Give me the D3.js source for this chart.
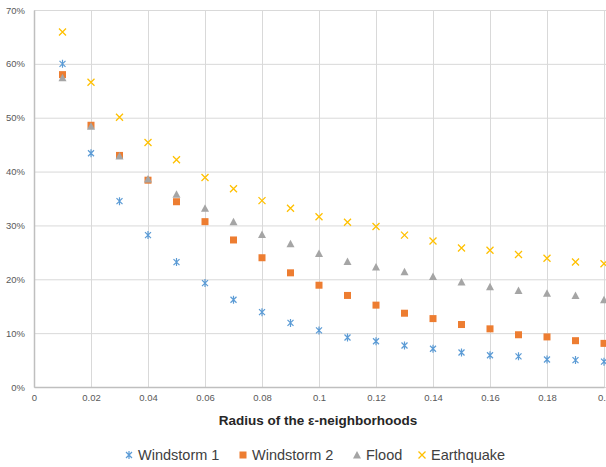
<!DOCTYPE html>
<html lang="en">
<head>
	<meta charset="utf-8" />
	<title>epsilon neighborhoods</title>
	<style>
		* {margin: 0; padding: 0;}
		body {background: #fff;}
		text {font-family: "Liberation Sans", Arial, sans-serif;}
	</style>
</head>
<body>
	<div id="viz"></div>
	<script src="https://cdn.jsdelivr.net/npm/d3@7"></script>
	<script>

	var w = 606, h = 467;

	// radius values (x) and the share per hazard (y)
	var radius = [0.01,0.02,0.03,0.04,0.05,0.06,0.07,0.08,0.09,0.10,
	              0.11,0.12,0.13,0.14,0.15,0.16,0.17,0.18,0.19,0.20];
	var windstorm1 = [0.600,0.434,0.345,0.282,0.232,0.193,0.162,0.139,0.119,0.105,
	                  0.092,0.085,0.077,0.071,0.064,0.059,0.057,0.051,0.050,0.047];
	var windstorm2 = [0.580,0.486,0.430,0.384,0.344,0.307,0.273,0.240,0.212,0.189,
	                  0.170,0.152,0.137,0.127,0.116,0.108,0.097,0.093,0.086,0.081];
	var flood      = [0.574,0.484,0.429,0.386,0.358,0.332,0.307,0.283,0.266,0.248,
	                  0.233,0.223,0.214,0.205,0.195,0.186,0.179,0.174,0.170,0.162];
	var earthquake = [0.659,0.566,0.501,0.454,0.422,0.389,0.368,0.346,0.332,0.316,
	                  0.306,0.298,0.282,0.271,0.258,0.254,0.246,0.239,0.232,0.229];

	var xTicks = [0,0.02,0.04,0.06,0.08,0.1,0.12,0.14,0.16,0.18,0.2];
	var yTicks = [0,0.1,0.2,0.3,0.4,0.5,0.6,0.7];

	var seriesNames = ["Windstorm 1","Windstorm 2","Flood","Earthquake"];
	var seriesColors = ["#5b9bd5","#ed7d31","#a5a5a5","#ffc000"];
	var seriesShapes = ["star","square","triangle","cross"];
	var seriesData = [windstorm1, windstorm2, flood, earthquake];

	var x = d3.scaleLinear().domain([0, 0.2]).range([34, 604]);
	var y = d3.scaleLinear().domain([0, 0.7]).range([387, 10]);

	var svg = d3.select("#viz").append("svg").attr("width", w).attr("height", h);

	// gridlines
	svg.append("g").attr("class","ygrid")
		.attr("transform","translate(34,0)")
		.call(d3.axisLeft(y).tickValues(yTicks).tickSize(-580).tickFormat(""))
		.call(function(g){
			g.select(".domain").remove();
			g.selectAll("line").attr("stroke","#d9d9d9");
		});
	svg.append("g").attr("class","xgrid")
		.attr("transform","translate(0,387)")
		.call(d3.axisBottom(x).tickValues(xTicks).tickSize(-377).tickFormat(""))
		.call(function(g){
			g.select(".domain").remove();
			g.selectAll("line").attr("stroke","#d9d9d9");
		});

	// axes lines + labels
	svg.append("g")
		.attr("transform","translate(34,0)")
		.call(d3.axisLeft(y).tickValues(yTicks).tickSize(0).tickPadding(9).tickFormat(d3.format(".0%")))
		.call(function(g){
			g.select(".domain").attr("stroke","#bfbfbf").attr("stroke-width",1.5);
			g.selectAll("text").attr("fill","#595959").style("font-size","9.5px")
				.style("font-family","'Liberation Sans', Arial, sans-serif");
		});
	svg.append("g")
		.attr("transform","translate(0,387)")
		.call(d3.axisBottom(x).tickValues(xTicks).tickSize(0).tickPadding(7)
			.tickFormat(function(d){ return d === 0 ? "0" : String(+d.toFixed(2)); }))
		.call(function(g){
			g.select(".domain").attr("stroke","#bfbfbf").attr("stroke-width",1.5);
			g.selectAll("text").attr("fill","#595959").style("font-size","9.5px")
				.style("font-family","'Liberation Sans', Arial, sans-serif");
		});

	// marker shapes
	function marker(sel, shape, color){
		if (shape === "square") {
			sel.append("rect").attr("x",-3.5).attr("y",-3.5).attr("width",7).attr("height",7)
				.attr("fill",color);
		} else if (shape === "triangle") {
			sel.append("path").attr("d","M0,-4L4,3.5L-4,3.5Z").attr("fill",color);
		} else if (shape === "cross") {
			sel.append("path").attr("d","M-3.5,-3.5L3.5,3.5M3.5,-3.5L-3.5,3.5")
				.attr("stroke",color).attr("stroke-width",1.3).attr("fill","none");
		} else {
			sel.append("path").attr("d","M-3,-3L3,3M3,-3L-3,3M0,-4L0,4")
				.attr("stroke",color).attr("stroke-width",1.2).attr("fill","none");
		}
	}

	// points
	seriesData.forEach(function(vals, i){
		var g = svg.append("g");
		var pts = g.selectAll("g").data(vals).enter().append("g")
			.attr("transform", function(d, j){ return "translate(" + x(radius[j]) + "," + y(d) + ")"; });
		marker(pts, seriesShapes[i], seriesColors[i]);
	});

	// axis title
	svg.append("text")
		.attr("x", 318).attr("y", 425)
		.attr("text-anchor","middle")
		.style("font-weight","bold").style("font-size","13.5px")
		.attr("fill","#262626")
		.text("Radius of the \u03b5-neighborhoods");

	// legend
	var legendX = [129, 243, 357, 422];
	var leg = svg.selectAll(".leg").data(seriesNames).enter().append("g")
		.attr("class","leg")
		.attr("transform", function(d, i){ return "translate(" + legendX[i] + ",455)"; });
	leg.each(function(d, i){
		marker(d3.select(this), seriesShapes[i], seriesColors[i]);
	});
	leg.append("text")
		.attr("x", 9).attr("dy","0.35em")
		.style("font-size","14.5px").attr("fill","#404040")
		.text(function(d){ return d; });
	</script>
</body>
</html>
